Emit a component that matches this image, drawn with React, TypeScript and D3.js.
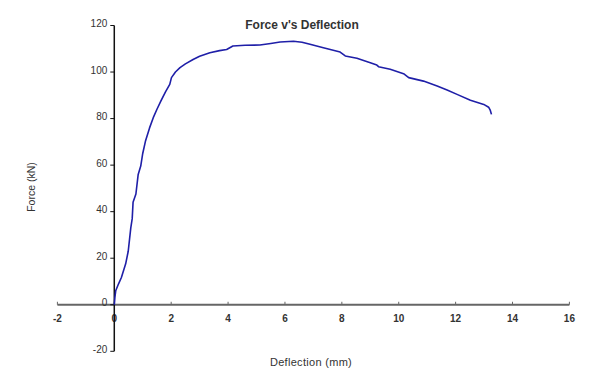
import React from "react";
import * as d3 from "d3";

// 読み取った値 (deflection mm, force kN)
const deflection = [
  0, 0.02, 0.05, 0.15, 0.25, 0.4, 0.49, 0.58, 0.63, 0.66, 0.76, 0.84, 0.93, 1.0,
  1.1, 1.24, 1.37, 1.5, 1.64, 1.8, 1.95, 2.01, 2.15, 2.31, 2.5, 2.77, 3.0, 3.36,
  3.7, 3.95, 4.17, 4.6, 5.12, 5.5, 5.83, 6.3, 6.6, 6.88, 7.35, 7.94, 8.12, 8.53,
  9.0, 9.23, 9.29, 9.7, 10.17, 10.35, 10.87, 11.35, 11.7, 12.05, 12.52, 12.99,
  13.16, 13.22, 13.26,
];
const force = [
  0, 3, 6, 9, 11.7, 17.6, 23, 33, 37, 44, 47.6, 56, 59.6, 65, 70.5, 76, 80.4, 84,
  87.6, 91.5, 94.7, 97.6, 100, 101.9, 103.5, 105.4, 106.8, 108.3, 109.2, 109.7,
  111.2, 111.5, 111.6, 112.3, 112.9, 113.2, 112.8, 111.9, 110.4, 108.6, 106.9, 105.9,
  104, 103, 102.3, 101.2, 99.3, 97.6, 96.1, 94, 92.3, 90.4, 87.9, 86.1, 84.9, 83.5,
  81.8,
];
const xTicks = [-2, 0, 2, 4, 6, 8, 10, 12, 14, 16];
const yTicks = [-20, 0, 20, 40, 60, 80, 100, 120];

const title = "Force v's Deflection";
const xTitle = "Deflection (mm)";
const yTitle = "Force (kN)";

const App = () => {
  const width = 600;
  const height = 372;
  const font = "Arial, 'Liberation Sans', sans-serif";

  const x = d3.scaleLinear().domain([-2, 16]).range([57.4, 569.4]);
  const y = d3.scaleLinear().domain([-20, 120]).range([351.3, 25.5]);

  const points: [number, number][] = deflection.map((d, i) => [d, force[i]]);
  const line = d3
    .line<[number, number]>()
    .x((p) => x(p[0]))
    .y((p) => y(p[1]));

  const x0 = x(0);
  const y0 = y(0);

  return (
    <svg
      width={width}
      height={height}
      style={{ position: "absolute", left: 0, top: 0, background: "#fff" }}
      fontFamily={font}
    >
      <text x={302} y={29} textAnchor="middle" fontSize={12} fontWeight="bold" fill="#333">
        {title}
      </text>

      {/* x軸 */}
      <line x1={x(-2)} x2={x(16)} y1={y0} y2={y0} stroke="#666" strokeWidth={2} />
      {xTicks.map((t) => (
        <g key={t} transform={`translate(${x(t)},${y0})`}>
          <line y1={-3} y2={0} stroke="#666" strokeWidth={1} />
          <text y={17} textAnchor="middle" fontSize={10} fontWeight="bold" fill="#333">
            {t}
          </text>
        </g>
      ))}

      {/* y軸 */}
      <line x1={x0} x2={x0} y1={y(-20)} y2={y(120)} stroke="#111" strokeWidth={1.5} />
      {yTicks.map((t) => (
        <g key={t} transform={`translate(${x0},${y(t)})`}>
          <line x1={-4} x2={0} stroke="#111" strokeWidth={1} />
          <text x={-7} y={1.5} textAnchor="end" fontSize={10} fill="#333">
            {t}
          </text>
        </g>
      ))}

      <path d={line(points) ?? ""} fill="none" stroke="#1f1fa8" strokeWidth={1.6} strokeLinejoin="round" />

      <text x={311} y={366} textAnchor="middle" fontSize={11} fill="#333" letterSpacing={0.3}>
        {xTitle}
      </text>
      <text
        transform={`translate(35,187) rotate(-90)`}
        textAnchor="middle"
        fontSize={10.5}
        fill="#333"
      >
        {yTitle}
      </text>
    </svg>
  );
};

export default App;
